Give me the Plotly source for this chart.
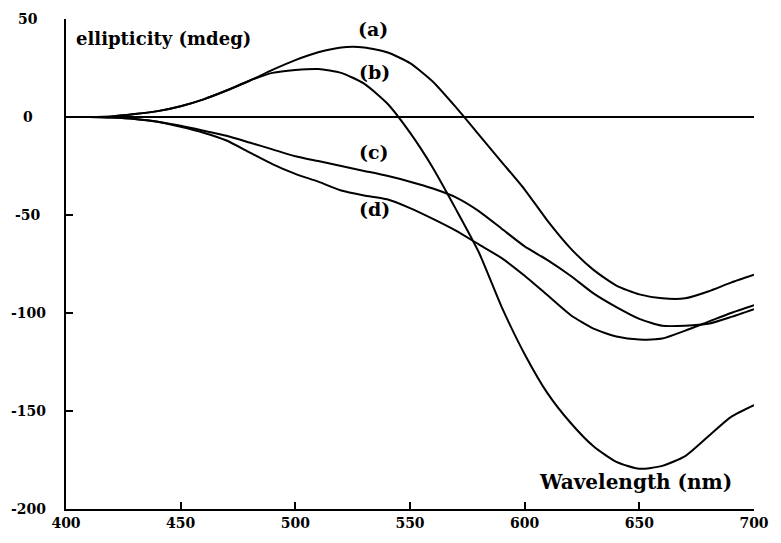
import plotly.graph_objects as go

wavelength = [400, 410, 420, 430, 440, 450, 460, 470, 480, 490, 500, 510, 520, 530, 540, 550,
              560, 570, 580, 590, 600, 610, 620, 630, 640, 650, 660, 670, 680, 690, 700]

curve_a = [0, 0, 0.3, 1.5, 3, 5.5, 9, 13.5, 18.5, 24, 29, 33, 35.5, 35.5, 33, 27.5,
           18, 5, -9, -23, -37, -53, -67, -78, -86, -90.5, -92.5, -92.5, -89, -84.5, -80.5]
curve_b = [0, 0, 0.3, 1.5, 3, 5.5, 9, 13.5, 18.5, 22.5, 24, 24.5, 22.5, 17, 7, -8,
           -26, -47, -69, -97, -121, -141, -156, -168, -176, -179.5, -178, -173, -163, -153, -147]
curve_c = [0, 0, -0.3, -1, -2.4, -4.5, -7, -9.6, -13, -16.5, -20, -22.5, -25, -27.5, -30, -33,
           -36.5, -41, -48, -57, -66, -73, -81, -90, -97, -103, -106.5, -106.5, -105.5, -102, -98]
curve_d = [0, 0, -0.3, -1, -2.4, -5, -8, -12, -18, -24, -29, -33, -37.5, -40, -42, -46.5,
           -52, -58, -65, -72, -81, -91, -101, -108, -112, -113.5, -113, -109, -104.5, -100, -96]

curve_names = ["(a)", "(b)", "(c)", "(d)"]
label_x = [534, 534.5, 534.5, 534.5]
label_y = [45, 23, -18, -47]

x_ticks = [400, 450, 500, 550, 600, 650, 700]
y_ticks = [50, 0, -50, -100, -150, -200]

FONT = "DejaVu Serif"

fig = go.Figure()
for ys in [curve_a, curve_b, curve_c, curve_d]:
    fig.add_trace(go.Scatter(x=wavelength, y=ys, mode="lines",
                             line=dict(color="black", width=2, shape="spline", smoothing=0.6),
                             showlegend=False, hoverinfo="skip"))

annotations = []
for name, lx, ly in zip(curve_names, label_x, label_y):
    annotations.append(dict(x=lx, y=ly, xref="x", yref="y", text=name, showarrow=False,
                            font=dict(family=FONT, size=19, color="black", weight="bold")))
for yt in y_ticks:
    annotations.append(dict(x=0, y=yt, xref="paper", yref="y", xshift=-38, text=str(yt),
                            showarrow=False, xanchor="center", yanchor="middle",
                            font=dict(family=FONT, size=14, color="black", weight="bold")))
annotations.append(dict(x=0, y=40, xref="paper", yref="y", xshift=8, text="ellipticity (mdeg)",
                        showarrow=False, xanchor="left", yanchor="middle",
                        font=dict(family=FONT, size=18, color="black", weight="bold")))
annotations.append(dict(x=648.5, y=-186, xref="x", yref="y", text="Wavelength (nm)",
                        showarrow=False, xanchor="center", yanchor="middle",
                        font=dict(family=FONT, size=20, color="black", weight="bold")))

fig.update_layout(
    width=781, height=543,
    margin=dict(l=66, r=17, t=19, b=34),
    paper_bgcolor="white", plot_bgcolor="white",
    annotations=annotations,
    xaxis=dict(range=[400, 700], tickvals=x_ticks, ticktext=[str(v) for v in x_ticks],
               showline=True, linecolor="black", linewidth=2, ticks="inside", ticklen=7,
               tickwidth=1.5, tickcolor="black", showgrid=False, zeroline=False,
               tickfont=dict(family=FONT, size=14, color="black", weight="bold")),
    yaxis=dict(range=[-200, 50], tickvals=y_ticks, showticklabels=False,
               showline=True, linecolor="black", linewidth=2, ticks="inside", ticklen=7,
               tickwidth=1.5, tickcolor="black", showgrid=False,
               zeroline=True, zerolinecolor="black", zerolinewidth=2),
)

fig.write_html("out.html")
